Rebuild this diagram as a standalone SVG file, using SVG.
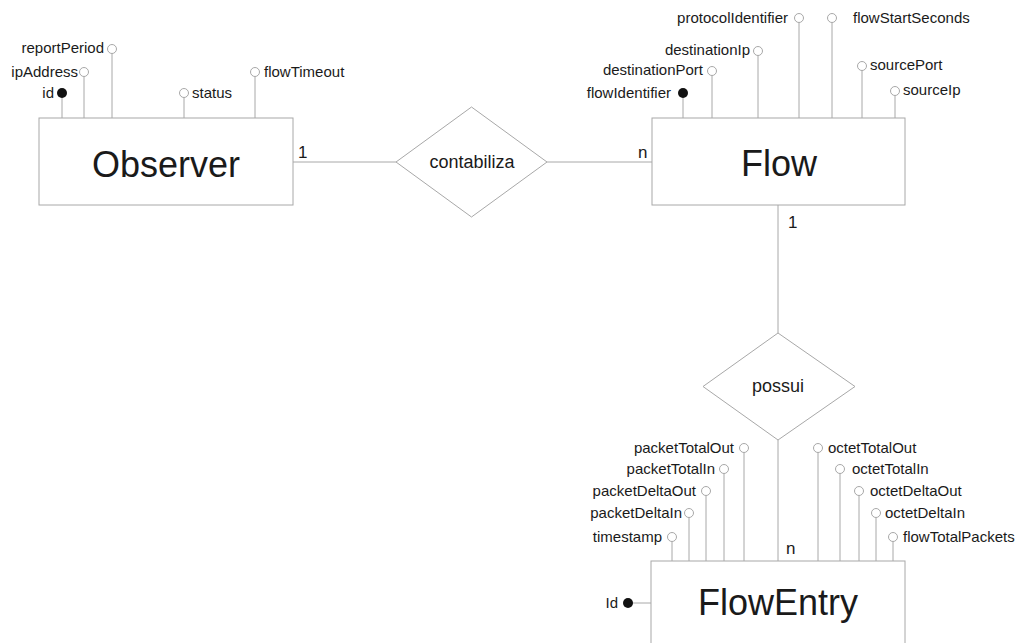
<svg xmlns="http://www.w3.org/2000/svg" width="1016" height="643" viewBox="0 0 1016 643">
<style>
.box{fill:#fff;stroke:#a8a8a8;stroke-width:1}
.ln{stroke:#a8a8a8;stroke-width:1;fill:none}
.oc{fill:#fff;stroke:#a8a8a8;stroke-width:1}
.fc{fill:#111;stroke:none}
.t{font-family:"Liberation Sans",Arial,sans-serif;font-size:15px;fill:#1a1a1a}
.card{font-family:"Liberation Sans",Arial,sans-serif;font-size:17px;fill:#1a1a1a}
.big{font-family:"Liberation Sans",Arial,sans-serif;font-size:36px;fill:#1a1a1a;text-anchor:middle}
.rel{font-family:"Liberation Sans",Arial,sans-serif;font-size:18px;fill:#1a1a1a;text-anchor:middle}
.r{text-anchor:end}
</style>
<rect width="1016" height="643" fill="#fff"/>
<g id="connectors">
<line class="ln" x1="293" y1="162" x2="396" y2="162"/>
<line class="ln" x1="547" y1="162" x2="652" y2="162"/>
<line class="ln" x1="778" y1="205" x2="778" y2="333"/>
<line class="ln" x1="778" y1="440" x2="778" y2="561"/>
<text class="card" x="298" y="158">1</text>
<text class="card" x="638" y="158">n</text>
<text class="card" x="788" y="228">1</text>
<text class="card" x="786" y="554">n</text>
</g>
<g id="observer">
<rect class="box" x="39" y="118" width="254" height="87"/>
<text class="big" x="166" y="177">Observer</text>
<line class="ln" x1="62" y1="93" x2="62" y2="118"/><circle class="fc" cx="62" cy="93" r="5"/><text class="t r" x="54" y="98">id</text>
<line class="ln" x1="84" y1="76" x2="84" y2="118"/><circle class="oc" cx="84" cy="72" r="4.5"/><text class="t r" x="78" y="77">ipAddress</text>
<line class="ln" x1="112" y1="53" x2="112" y2="118"/><circle class="oc" cx="112" cy="49" r="4.5"/><text class="t r" x="104" y="53">reportPeriod</text>
<line class="ln" x1="184" y1="97" x2="184" y2="118"/><circle class="oc" cx="184" cy="93" r="4.5"/><text class="t" x="192" y="98">status</text>
<line class="ln" x1="255" y1="76" x2="255" y2="118"/><circle class="oc" cx="255" cy="72" r="4.5"/><text class="t" x="264" y="77">flowTimeout</text>
</g>
<g id="contabiliza">
<polygon class="box" points="471.5,107 547,162 471.5,217 396,162"/>
<text class="rel" x="472" y="168">contabiliza</text>
</g>
<g id="flow">
<rect class="box" x="652" y="118" width="253" height="87"/>
<text class="big" x="779" y="176">Flow</text>
<line class="ln" x1="683" y1="93" x2="683" y2="118"/><circle class="fc" cx="683" cy="93" r="5"/><text class="t r" x="671" y="98">flowIdentifier</text>
<line class="ln" x1="712" y1="75" x2="712" y2="118"/><circle class="oc" cx="712" cy="71" r="4.5"/><text class="t r" x="703" y="75">destinationPort</text>
<line class="ln" x1="758" y1="55" x2="758" y2="118"/><circle class="oc" cx="758" cy="51" r="4.5"/><text class="t r" x="750" y="55">destinationIp</text>
<line class="ln" x1="799" y1="22" x2="799" y2="118"/><circle class="oc" cx="799" cy="18" r="4.5"/><text class="t r" x="788" y="23">protocolIdentifier</text>
<line class="ln" x1="832" y1="22" x2="832" y2="118"/><circle class="oc" cx="832" cy="18" r="4.5"/><text class="t" x="853" y="23">flowStartSeconds</text>
<line class="ln" x1="862" y1="70" x2="862" y2="118"/><circle class="oc" cx="862" cy="66" r="4.5"/><text class="t" x="870" y="70">sourcePort</text>
<line class="ln" x1="895" y1="95" x2="895" y2="118"/><circle class="oc" cx="895" cy="91" r="4.5"/><text class="t" x="903" y="95">sourceIp</text>
</g>
<g id="possui">
<polygon class="box" points="778,333 855,386.5 778,440 703,386.5"/>
<text class="rel" x="778" y="392">possui</text>
</g>
<g id="flowentry">
<rect class="box" x="651" y="561" width="254" height="87"/>
<text class="big" x="778" y="615">FlowEntry</text>
<line class="ln" x1="628" y1="603" x2="651" y2="603"/><circle class="fc" cx="628" cy="603" r="5"/><text class="t r" x="618" y="608">Id</text>
<line class="ln" x1="672" y1="541" x2="672" y2="561"/><circle class="oc" cx="672" cy="537" r="4.5"/><text class="t r" x="662" y="542">timestamp</text>
<line class="ln" x1="689" y1="517" x2="689" y2="561"/><circle class="oc" cx="689" cy="513" r="4.5"/><text class="t r" x="682" y="518">packetDeltaIn</text>
<line class="ln" x1="706" y1="495" x2="706" y2="561"/><circle class="oc" cx="706" cy="491" r="4.5"/><text class="t r" x="696" y="496">packetDeltaOut</text>
<line class="ln" x1="724" y1="473" x2="724" y2="561"/><circle class="oc" cx="724" cy="469" r="4.5"/><text class="t r" x="715" y="474">packetTotalIn</text>
<line class="ln" x1="744" y1="452" x2="744" y2="561"/><circle class="oc" cx="744" cy="448" r="4.5"/><text class="t r" x="734" y="453">packetTotalOut</text>
<line class="ln" x1="818" y1="452" x2="818" y2="561"/><circle class="oc" cx="818" cy="448" r="4.5"/><text class="t" x="828" y="453">octetTotalOut</text>
<line class="ln" x1="840" y1="473" x2="840" y2="561"/><circle class="oc" cx="840" cy="469" r="4.5"/><text class="t" x="852" y="474">octetTotalIn</text>
<line class="ln" x1="859" y1="495" x2="859" y2="561"/><circle class="oc" cx="859" cy="491" r="4.5"/><text class="t" x="870" y="496">octetDeltaOut</text>
<line class="ln" x1="876" y1="517" x2="876" y2="561"/><circle class="oc" cx="876" cy="513" r="4.5"/><text class="t" x="885" y="518">octetDeltaIn</text>
<line class="ln" x1="893" y1="541" x2="893" y2="561"/><circle class="oc" cx="893" cy="537" r="4.5"/><text class="t" x="903" y="542">flowTotalPackets</text>
</g>
</svg>
